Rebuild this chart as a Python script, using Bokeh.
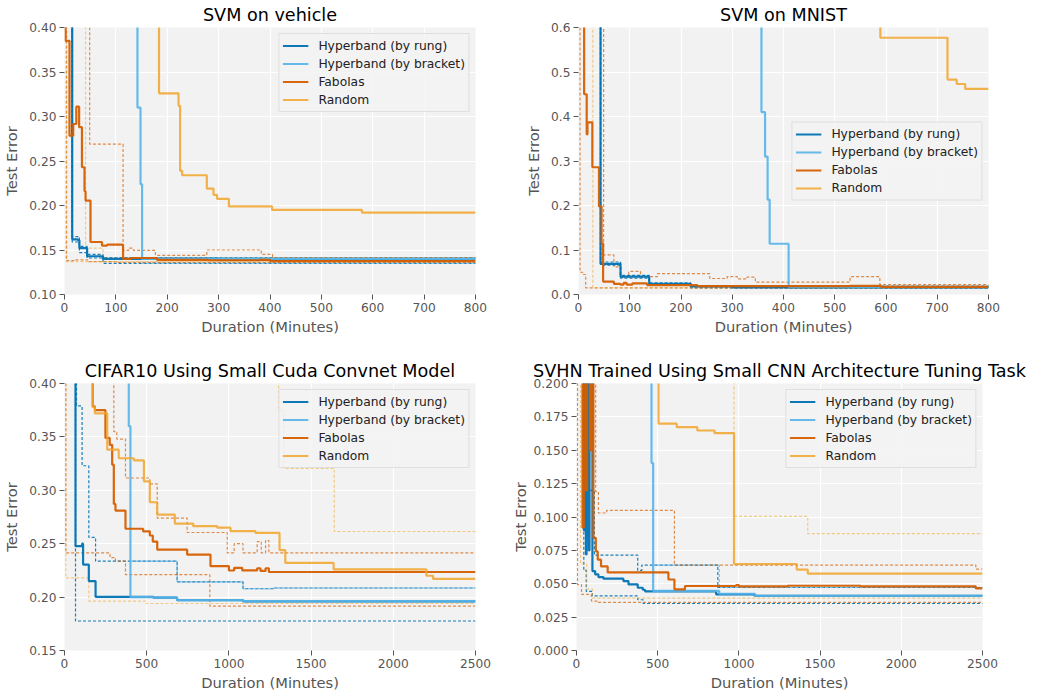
from bokeh.plotting import figure
from bokeh.layouts import column, row
from bokeh.models import FixedTicker, PrintfTickFormatter, Range1d
from bokeh.embed import file_html
from bokeh.resources import INLINE

# ---------------- labels ----------------
LABELS = ["Hyperband (by rung)", "Hyperband (by bracket)", "Fabolas", "Random"]
COLORS = ["#0072B2", "#56B4E9", "#D55E00", "#F2A52A"]
TITLES = ["SVM on vehicle", "SVM on MNIST", "CIFAR10 Using Small Cuda Convnet Model",
          "SVHN Trained Using Small CNN Architecture Tuning Task"]
X_LABEL = "Duration (Minutes)"
Y_LABEL = "Test Error"

# ---------------- SVM on vehicle ----------------
veh_xticks = [0, 100, 200, 300, 400, 500, 600, 700, 800]
veh_yticks = [0.10, 0.15, 0.20, 0.25, 0.30, 0.35, 0.40]
veh_rung_x = [0, 15, 26, 29, 44, 75, 300, 800]
veh_rung_y = [0.9, 0.162, 0.161, 0.152, 0.143, 0.140, 0.139, 0.139]
veh_rung_hi_x = [0, 15, 29, 44, 75, 800]
veh_rung_hi_y = [0.9, 0.165, 0.154, 0.145, 0.1415, 0.1415]
veh_rung_lo_x = [0, 15, 29, 44, 75, 800]
veh_rung_lo_y = [0.9, 0.159, 0.147, 0.141, 0.135, 0.1345]
veh_brk_x = [0, 142, 148, 151, 800]
veh_brk_y = [0.9, 0.31, 0.224, 0.140, 0.139]
veh_brk_hi_x = [151, 800]
veh_brk_hi_y = [0.1415, 0.1415]
veh_brk_lo_x = [151, 800]
veh_brk_lo_y = [0.1352, 0.1345]
veh_fab_x = [0, 2, 9.7, 17, 23, 28.5, 34, 39, 41, 50.6, 73, 83, 114, 130, 180, 280, 380, 400, 800]
veh_fab_y = [0.9, 0.385, 0.2785, 0.2916, 0.311, 0.288, 0.243, 0.216, 0.2055, 0.159, 0.155, 0.156, 0.140, 0.141, 0.139, 0.1385, 0.139, 0.1375, 0.1375]
veh_fab_hi_x = [0, 49, 114, 125, 134, 177, 277, 383, 405, 800]
veh_fab_hi_y = [0.9, 0.269, 0.1495, 0.152, 0.1495, 0.144, 0.150, 0.145, 0.1415, 0.1405]
veh_fab_lo_x = [0, 4, 18, 45, 100, 800]
veh_fab_lo_y = [0.9, 0.138, 0.139, 0.137, 0.136, 0.136]
veh_rnd_x = [0, 184, 222, 225, 229, 277, 290, 297, 320, 404, 579, 800]
veh_rnd_y = [0.9, 0.326, 0.312, 0.239, 0.234, 0.219, 0.212, 0.2075, 0.199, 0.195, 0.192, 0.192]
veh_rnd_hi_x = [0, 41, 75, 800]
veh_rnd_hi_y = [0.9, 0.152, 0.141, 0.140]
veh_rnd_lo_x = [0, 3, 800]
veh_rnd_lo_y = [0.9, 0.137, 0.135]

# ---------------- SVM on MNIST ----------------
mn_xticks = [0, 100, 200, 300, 400, 500, 600, 700, 800]
mn_yticks = [0.0, 0.1, 0.2, 0.3, 0.4, 0.5, 0.6]
mn_rung_x = [0, 43, 82, 138, 219, 300, 800]
mn_rung_y = [0.9, 0.069, 0.040, 0.024, 0.018, 0.016, 0.015]
mn_rung_hi_x = [0, 43, 82, 138, 219, 800]
mn_rung_hi_y = [0.9, 0.073, 0.043, 0.026, 0.019, 0.016]
mn_rung_lo_x = [0, 43, 82, 138, 219, 800]
mn_rung_lo_y = [0.9, 0.066, 0.037, 0.022, 0.015, 0.014]
mn_brk_x = [0, 357, 364, 369, 373, 410, 800]
mn_brk_y = [0.9, 0.41, 0.31, 0.213, 0.114, 0.017, 0.015]
mn_brk_hi_x = [410, 800]
mn_brk_hi_y = [0.018, 0.016]
mn_brk_lo_x = [410, 800]
mn_brk_lo_y = [0.015, 0.014]
mn_fab_x = [0, 11, 16, 17.5, 27, 40, 45, 48, 69, 82, 88, 94, 105, 134, 232, 530, 590, 800]
mn_fab_y = [0.9, 0.45, 0.36, 0.387, 0.286, 0.198, 0.115, 0.029, 0.024, 0.022, 0.026, 0.022, 0.025, 0.021, 0.019, 0.0195, 0.017, 0.017]
mn_fab_hi_x = [0, 49, 69, 82, 98, 121, 154, 256, 290, 310, 329, 345, 530, 588, 800]
mn_fab_hi_y = [0.9, 0.089, 0.062, 0.040, 0.052, 0.040, 0.047, 0.036, 0.040, 0.035, 0.039, 0.028, 0.040, 0.022, 0.021]
mn_fab_lo_x = [0, 3, 8, 14, 800]
mn_fab_lo_y = [0.9, 0.05, 0.045, 0.015, 0.014]
mn_rnd_x = [0, 589, 720, 738, 754.5, 800]
mn_rnd_y = [0.9, 0.577, 0.483, 0.473, 0.462, 0.462]
mn_rnd_lo_x = [0, 28, 800]
mn_rnd_lo_y = [0.9, 0.015, 0.014]

# ---------------- CIFAR10 ----------------
cf_xticks = [0, 500, 1000, 1500, 2000, 2500]
cf_yticks = [0.15, 0.20, 0.25, 0.30, 0.35, 0.40]
cf_rung_x = [0, 67, 107, 113, 148, 189, 540, 685, 1086, 2500]
cf_rung_y = [0.9, 0.2477, 0.250, 0.2305, 0.215, 0.2003, 0.1995, 0.1972, 0.196, 0.196]
cf_rung_hi_x = [0, 73, 107, 148, 189, 685, 1086, 1272, 2500]
cf_rung_hi_y = [0.9, 0.379, 0.323, 0.256, 0.2336, 0.2143, 0.2078, 0.2085, 0.2085]
cf_rung_lo_x = [0, 67, 2500]
cf_rung_lo_y = [0.9, 0.1776, 0.1776]
cf_brk_x = [0, 391, 401, 540, 685, 1086, 2500]
cf_brk_y = [0.9, 0.36, 0.2, 0.1995, 0.1972, 0.1962, 0.1962]
cf_brk_hi_x = [401, 685, 1086, 1272, 2500]
cf_brk_hi_y = [0.2336, 0.2143, 0.2078, 0.2085, 0.2085]
cf_fab_x = [0, 172, 185, 249, 275, 290, 300, 310, 371, 478, 519, 537, 564, 746, 888, 1000, 1032, 1081, 1172, 1192, 1223, 1243, 2500]
cf_fab_y = [0.9, 0.3785, 0.375, 0.349, 0.3426, 0.324, 0.2872, 0.281, 0.264, 0.2616, 0.2577, 0.252, 0.2445, 0.2398, 0.229, 0.2249, 0.2274, 0.225, 0.227, 0.2245, 0.227, 0.2235, 0.2235]
cf_fab_hi_x = [0, 300, 318, 371, 519, 564, 746, 990, 1032, 1086, 1172, 1197, 1223, 1243, 2500]
cf_fab_hi_y = [0.9, 0.355, 0.348, 0.3115, 0.306, 0.274, 0.2605, 0.2414, 0.250, 0.2414, 0.252, 0.2414, 0.253, 0.2414, 0.2414]
cf_fab_lo_x = [0, 8, 277, 310, 371, 884, 2500]
cf_fab_lo_y = [0.9, 0.2414, 0.237, 0.2336, 0.221, 0.1916, 0.1916]
cf_rnd_x = [0, 172, 185, 260, 330, 422, 483, 519, 564, 671, 783, 929, 1010, 1162, 1308, 1343, 1637, 2201, 2242, 2500]
cf_rnd_y = [0.9, 0.378, 0.372, 0.338, 0.330, 0.328, 0.3084, 0.2888, 0.2772, 0.2688, 0.2664, 0.265, 0.2617, 0.2601, 0.244, 0.232, 0.226, 0.220, 0.217, 0.217]
cf_rnd_hi_x = [0, 1302, 1333, 1641, 2500]
cf_rnd_hi_y = [0.9, 0.375, 0.3206, 0.2614, 0.2614]
cf_rnd_lo_x = [0, 8, 148, 493, 2500]
cf_rnd_lo_y = [0.9, 0.218, 0.1963, 0.194, 0.194]

# ---------------- SVHN ----------------
sv_xticks = [0, 500, 1000, 1500, 2000, 2500]
sv_yticks = [0.0, 0.025, 0.05, 0.075, 0.1, 0.125, 0.15, 0.175, 0.2]
sv_rung_x = [0, 45, 53, 58, 62, 66, 70, 76, 80, 98, 115, 135, 166, 289, 320, 377, 408, 422, 860, 1096, 2500]
sv_rung_y = [0.9, 0.09, 0.25, 0.072, 0.25, 0.085, 0.25, 0.075, 0.25, 0.0595, 0.057, 0.055, 0.0538, 0.052, 0.0495, 0.047, 0.0455, 0.0443, 0.042, 0.041, 0.0405]
sv_rung_hi_x = [0, 70, 110, 377, 402, 870, 2500]
sv_rung_hi_y = [0.9, 0.12, 0.0715, 0.060, 0.064, 0.0472, 0.047]
sv_rung_lo_x = [0, 45, 60, 98, 377, 410, 2500]
sv_rung_lo_y = [0.9, 0.06, 0.0443, 0.0409, 0.038, 0.0352, 0.035]
sv_brk_x = [0, 462, 472, 879, 1100, 2500]
sv_brk_y = [0.9, 0.1404, 0.0446, 0.0425, 0.041, 0.041]
sv_brk_hi_x = [472, 879, 2500]
sv_brk_hi_y = [0.064, 0.0472, 0.047]
sv_fab_x = [0, 37, 45, 57, 66, 84, 92, 104, 119, 131, 151, 192, 566, 603, 668, 983, 1000, 1300, 1750, 2459, 2500]
sv_fab_y = [0.9, 0.092, 0.25, 0.12, 0.25, 0.15, 0.25, 0.0844, 0.0742, 0.068, 0.063, 0.0585, 0.0532, 0.0458, 0.0483, 0.049, 0.048, 0.0485, 0.048, 0.0465, 0.0465]
sv_fab_hi_x = [0, 118, 135, 186, 603, 2459, 2500]
sv_fab_hi_y = [0.9, 0.119, 0.103, 0.105, 0.064, 0.061, 0.061]
sv_fab_lo_x = [0, 6, 31, 92, 133, 2500]
sv_fab_lo_y = [0.9, 0.0494, 0.042, 0.037, 0.036, 0.036]
sv_rnd_x = [0, 505, 617, 744, 850, 970, 1356, 1424, 2500]
sv_rnd_y = [0.9, 0.170, 0.1673, 0.1648, 0.1628, 0.0648, 0.0606, 0.0576, 0.0576]
sv_rnd_hi_x = [0, 970, 1424, 2500]
sv_rnd_hi_y = [0.9, 0.1004, 0.0875, 0.0875]
sv_rnd_lo_x = [0, 25, 63, 98, 2500]
sv_rnd_lo_y = [0.9, 0.065, 0.046, 0.0392, 0.0385]

FONT = "DejaVu Sans"
MAIN_ALPHA = [0.95, 0.9, 0.95, 0.85]
BAND_ALPHA = [0.9, 0.8, 0.7, 0.55]


def panel(title, xr, yr, xticks, yticks, fmt, mains, bands, loc,
          left, fw, right, top, fh, bottom, ylab_standoff=6):
    p = figure(frame_width=fw, frame_height=fh,
               x_range=Range1d(*xr), y_range=Range1d(*yr),
               output_backend="svg", toolbar_location=None,
               min_border_left=left, min_border_right=right,
               min_border_top=top, min_border_bottom=bottom,
               title=title)
    p.title.text_font = FONT
    p.title.text_font_size = "17.6px"
    p.title.text_font_style = "normal"
    p.title.text_color = "#000000"
    p.title.align = "center"
    p.title.standoff = 5
    p.background_fill_color = "#f2f2f2"
    p.border_fill_color = "white"
    p.outline_line_color = None
    for g in (p.xgrid, p.ygrid):
        g.grid_line_color = "white"
        g.grid_line_width = 1.2
    p.xaxis.ticker = FixedTicker(ticks=xticks)
    p.yaxis.ticker = FixedTicker(ticks=yticks)
    p.yaxis.formatter = PrintfTickFormatter(format=fmt)
    p.xaxis.formatter = PrintfTickFormatter(format="%d")
    for ax in (p.xaxis, p.yaxis):
        ax.axis_line_color = None
        ax.major_tick_line_color = "#555555"
        ax.major_tick_out = 5
        ax.major_tick_in = 0
        ax.minor_tick_line_color = None
        ax.major_label_text_font = FONT
        ax.major_label_text_font_size = "12.2px"
        ax.major_label_text_color = "#555555"
        ax.major_label_standoff = 3
        ax.axis_label_text_font = FONT
        ax.axis_label_text_font_size = "14.7px"
        ax.axis_label_text_font_style = "normal"
        ax.axis_label_text_color = "#555555"
    p.xaxis.axis_label = X_LABEL
    p.yaxis.axis_label = Y_LABEL
    p.xaxis.axis_label_standoff = 3
    p.yaxis.axis_label_standoff = ylab_standoff

    for i, (bx, by) in bands:
        p.step(bx, by, mode="after", line_color=COLORS[i], line_width=1.2,
               line_alpha=BAND_ALPHA[i], line_dash="3 2")
    for i, (mx, my) in enumerate(mains):
        p.step(mx, my, mode="after", line_color=COLORS[i], line_width=2.2,
               line_alpha=MAIN_ALPHA[i], legend_label=LABELS[i])

    lg = p.legend[0]
    lg.location = loc
    lg.margin = 6
    lg.padding = 3
    lg.spacing = 1
    lg.glyph_width = 26
    lg.glyph_height = 17
    lg.label_height = 17
    lg.label_standoff = 10
    lg.label_text_font = FONT
    lg.label_text_font_size = "12.3px"
    lg.label_text_color = "#222222"
    lg.border_line_color = "#cccccc"
    lg.border_line_width = 1
    lg.background_fill_color = "#f2f2f2"
    lg.background_fill_alpha = 0.8
    return p


p1 = panel(TITLES[0], (0, 800), (0.10, 0.40), veh_xticks, veh_yticks, "%.2f",
           [(veh_rung_x, veh_rung_y), (veh_brk_x, veh_brk_y), (veh_fab_x, veh_fab_y), (veh_rnd_x, veh_rnd_y)],
           [(0, (veh_rung_hi_x, veh_rung_hi_y)), (0, (veh_rung_lo_x, veh_rung_lo_y)),
            (1, (veh_brk_hi_x, veh_brk_hi_y)), (1, (veh_brk_lo_x, veh_brk_lo_y)),
            (2, (veh_fab_hi_x, veh_fab_hi_y)), (2, (veh_fab_lo_x, veh_fab_lo_y)),
            (3, (veh_rnd_hi_x, veh_rnd_hi_y)), (3, (veh_rnd_lo_x, veh_rnd_lo_y))],
           "top_right", 64, 411, 35, 27, 267, 62)

p2 = panel(TITLES[1], (0, 800), (0.0, 0.6), mn_xticks, mn_yticks, "%.1f",
           [(mn_rung_x, mn_rung_y), (mn_brk_x, mn_brk_y), (mn_fab_x, mn_fab_y), (mn_rnd_x, mn_rnd_y)],
           [(0, (mn_rung_hi_x, mn_rung_hi_y)), (0, (mn_rung_lo_x, mn_rung_lo_y)),
            (1, (mn_brk_hi_x, mn_brk_hi_y)), (1, (mn_brk_lo_x, mn_brk_lo_y)),
            (2, (mn_fab_hi_x, mn_fab_hi_y)), (2, (mn_fab_lo_x, mn_fab_lo_y)),
            (3, (mn_rnd_lo_x, mn_rnd_lo_y))],
           "center_right", 68, 410, 40, 27, 267, 62)

p3 = panel(TITLES[2], (0, 2500), (0.15, 0.40), cf_xticks, cf_yticks, "%.2f",
           [(cf_rung_x, cf_rung_y), (cf_brk_x, cf_brk_y), (cf_fab_x, cf_fab_y), (cf_rnd_x, cf_rnd_y)],
           [(0, (cf_rung_hi_x, cf_rung_hi_y)), (0, (cf_rung_lo_x, cf_rung_lo_y)),
            (1, (cf_brk_hi_x, cf_brk_hi_y)),
            (2, (cf_fab_hi_x, cf_fab_hi_y)), (2, (cf_fab_lo_x, cf_fab_lo_y)),
            (3, (cf_rnd_hi_x, cf_rnd_hi_y)), (3, (cf_rnd_lo_x, cf_rnd_lo_y))],
           "top_right", 64, 411, 33, 27, 267, 41)

p4 = panel(TITLES[3], (0, 2500), (0.0, 0.2), sv_xticks, sv_yticks, "%.3f",
           [(sv_rung_x, sv_rung_y), (sv_brk_x, sv_brk_y), (sv_fab_x, sv_fab_y), (sv_rnd_x, sv_rnd_y)],
           [(0, (sv_rung_hi_x, sv_rung_hi_y)), (0, (sv_rung_lo_x, sv_rung_lo_y)),
            (1, (sv_brk_hi_x, sv_brk_hi_y)),
            (2, (sv_fab_hi_x, sv_fab_hi_y)), (2, (sv_fab_lo_x, sv_fab_lo_y)),
            (3, (sv_rnd_hi_x, sv_rnd_hi_y)), (3, (sv_rnd_lo_x, sv_rnd_lo_y))],
           "top_right", 67, 406, 50, 27, 267, 41, ylab_standoff=2)

layout = column(row(p1, p2), row(p3, p4))
open("out.html", "w").write(file_html(layout, INLINE))
